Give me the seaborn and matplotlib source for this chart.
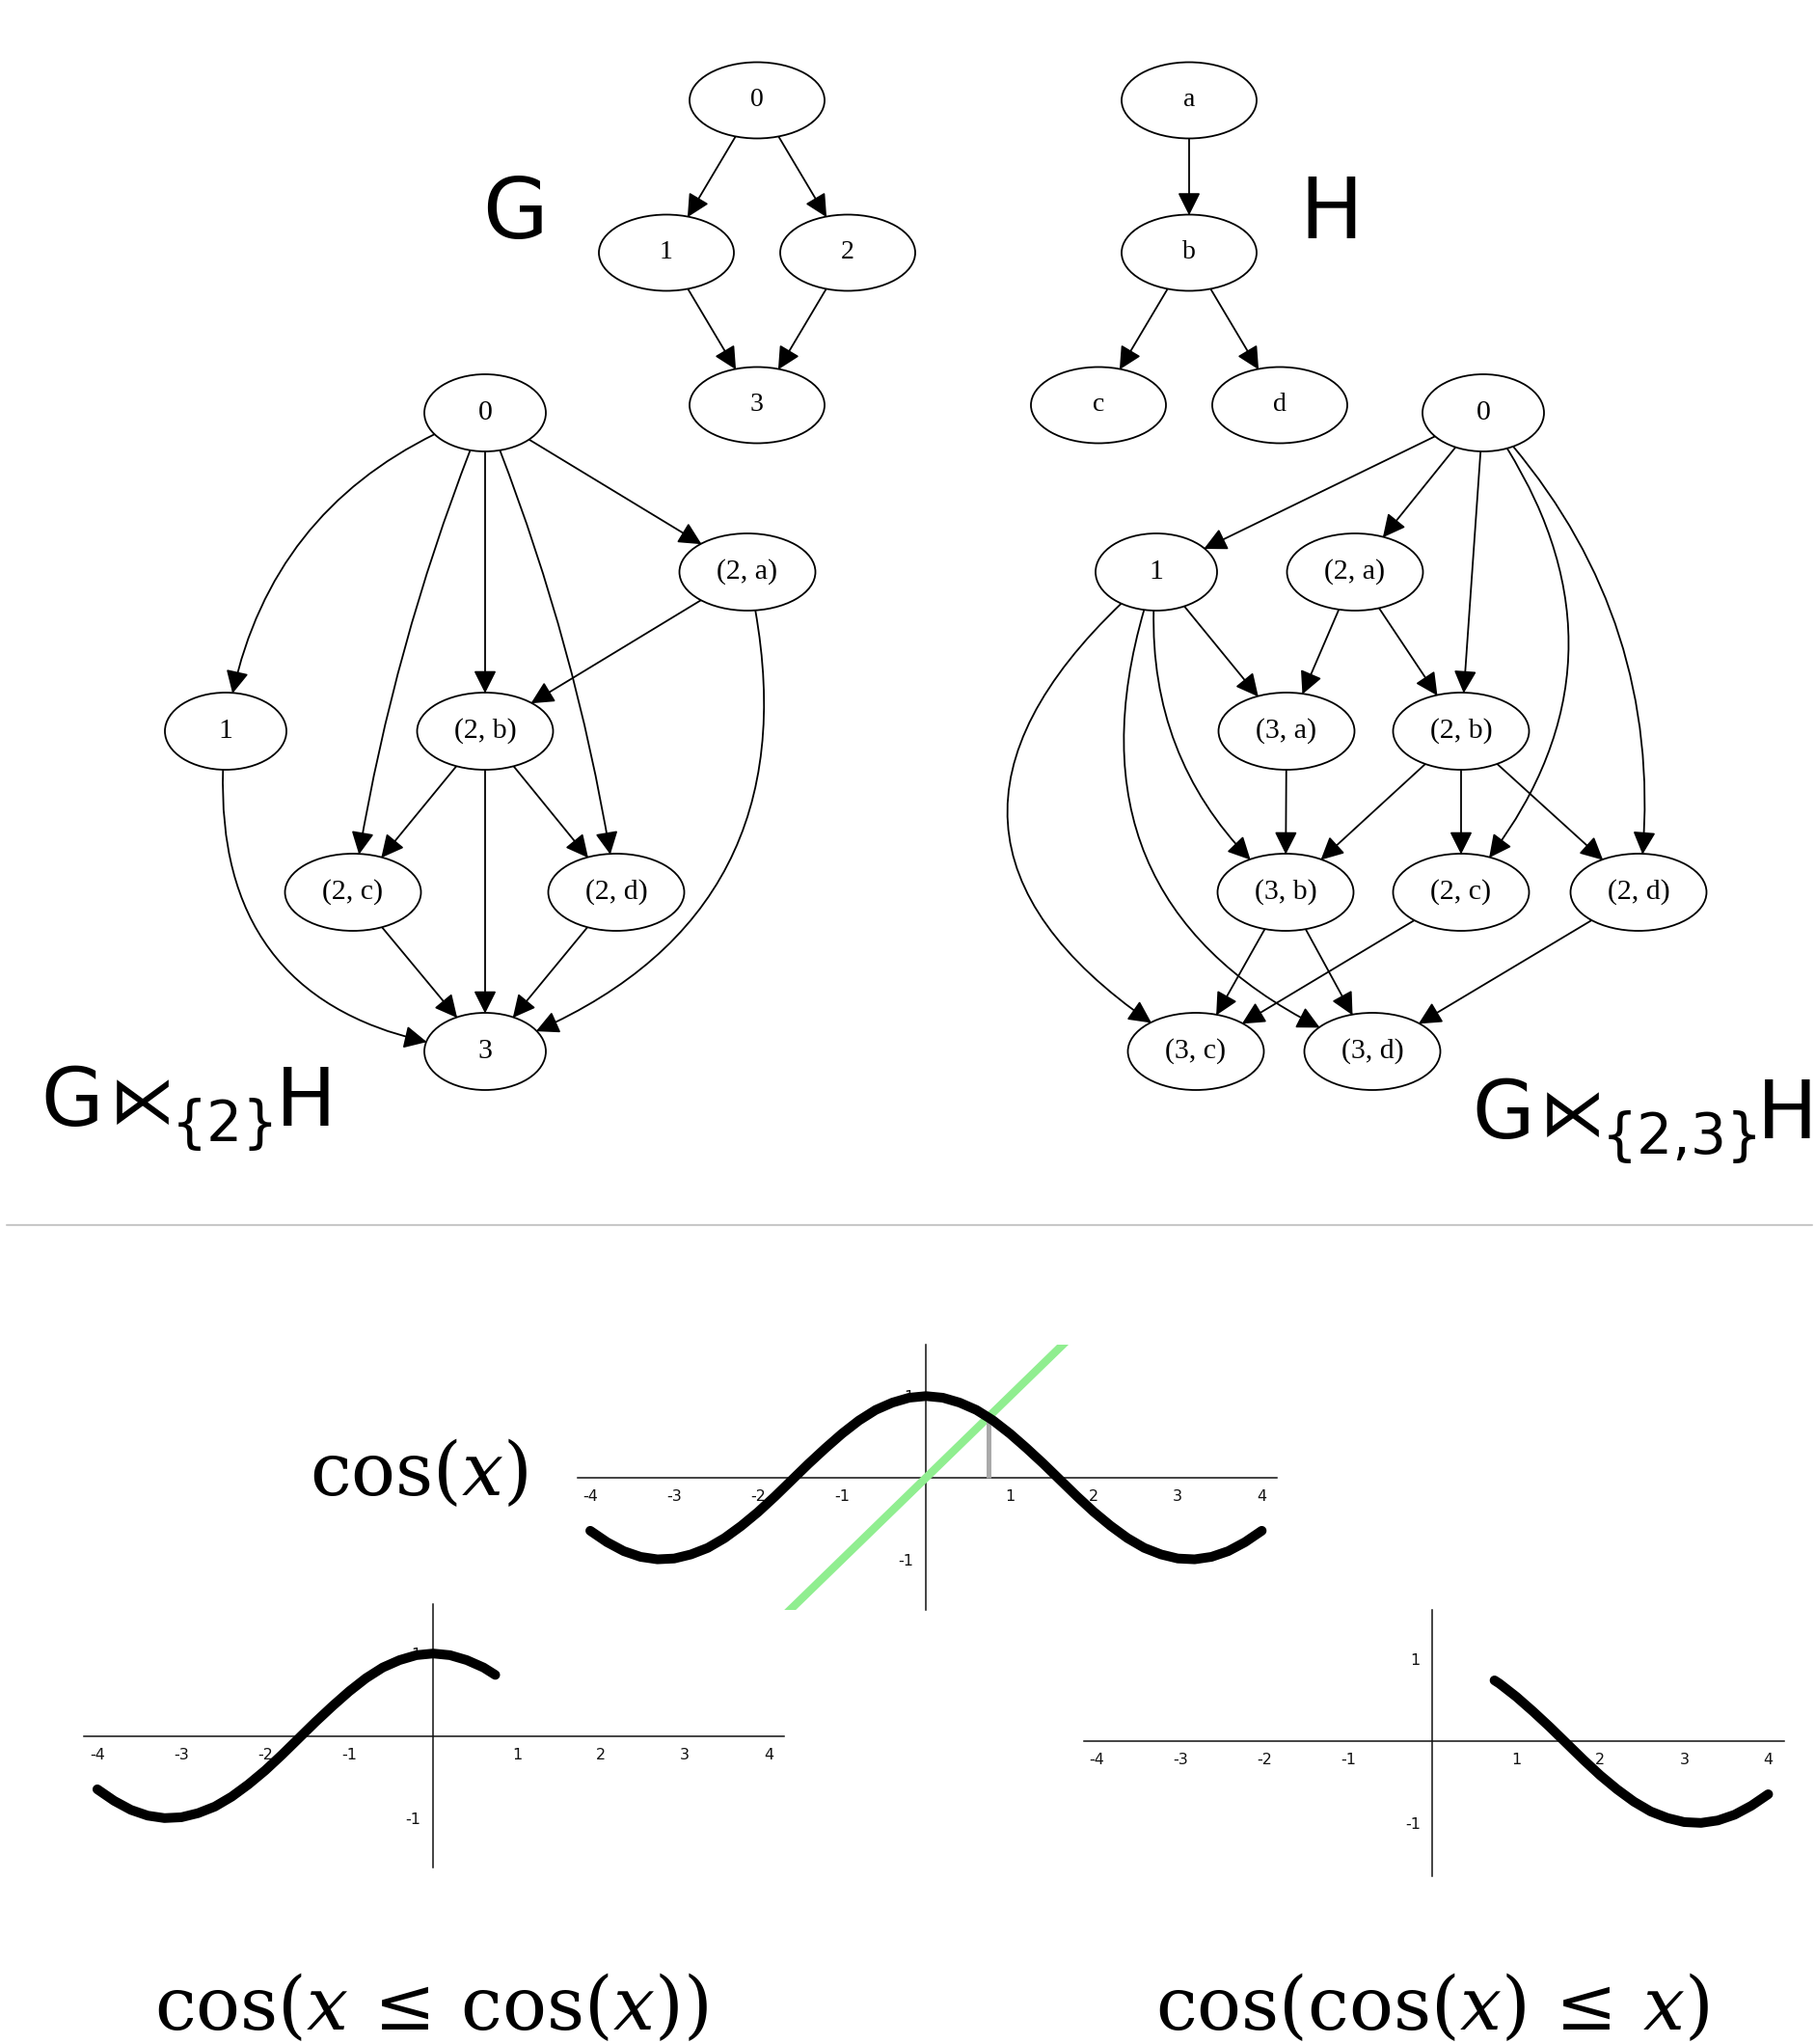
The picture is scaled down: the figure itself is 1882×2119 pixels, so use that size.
import matplotlib.pyplot as plt
from matplotlib.patches import Ellipse, FancyArrowPatch
import seaborn as sns

# Graphs G and H
g_nodes = ['0', '1', '2', '3']
g_edges = [('0', '1'), ('0', '2'), ('1', '3'), ('2', '3')]
h_nodes = ['a', 'b', 'c', 'd']
h_edges = [('a', 'b'), ('b', 'c'), ('b', 'd')]

# G ⋉{2} H
p2_nodes = ['0', '1', '(2, a)', '(2, b)', '(2, c)', '(2, d)', '3']
p2_edges = [('0', '1'), ('0', '(2, a)'), ('0', '(2, b)'), ('0', '(2, c)'), ('0', '(2, d)'),
            ('(2, a)', '(2, b)'), ('(2, a)', '3'), ('1', '3'),
            ('(2, b)', '(2, c)'), ('(2, b)', '(2, d)'), ('(2, b)', '3'),
            ('(2, c)', '3'), ('(2, d)', '3')]

# G ⋉{2,3} H
p23_nodes = ['0', '1', '(2, a)', '(3, a)', '(2, b)', '(3, b)', '(2, c)', '(2, d)', '(3, c)', '(3, d)']
p23_edges = [('0', '1'), ('0', '(2, a)'), ('0', '(2, b)'), ('0', '(2, c)'), ('0', '(2, d)'),
             ('1', '(3, a)'), ('1', '(3, b)'), ('1', '(3, c)'), ('1', '(3, d)'),
             ('(2, a)', '(3, a)'), ('(2, a)', '(2, b)'), ('(3, a)', '(3, b)'),
             ('(2, b)', '(3, b)'), ('(2, b)', '(2, c)'), ('(2, b)', '(2, d)'),
             ('(3, b)', '(3, c)'), ('(3, b)', '(3, d)'), ('(2, c)', '(3, c)'), ('(2, d)', '(3, d)')]

# label pieces: graph name, operator, subscript, graph name
left_label = ['G', '⋉', '{2}', 'H']
right_label = ['G', '⋉', '{2,3}', 'H']

# cos(x) samples and the line y = x
cos_x = [-4.0, -3.8, -3.6, -3.4, -3.2, -3.0, -2.8, -2.6, -2.4, -2.2, -2.0, -1.8, -1.6, -1.4,
         -1.2, -1.0, -0.8, -0.6, -0.4, -0.2, 0.0, 0.2, 0.4, 0.6, 0.74, 0.8, 1.0, 1.2, 1.4,
         1.6, 1.8, 2.0, 2.2, 2.4, 2.6, 2.8, 3.0, 3.2, 3.4, 3.6, 3.8, 4.0]
cos_y = [-0.65, -0.79, -0.90, -0.97, -1.00, -0.99, -0.94, -0.86, -0.74, -0.59, -0.42, -0.23,
         -0.03, 0.17, 0.36, 0.54, 0.70, 0.83, 0.92, 0.98, 1.00, 0.98, 0.92, 0.83, 0.74, 0.70,
         0.54, 0.36, 0.17, -0.03, -0.23, -0.42, -0.59, -0.74, -0.86, -0.94, -0.99, -1.00,
         -0.97, -0.90, -0.79, -0.65]
line_x = [-1.7, 1.7]
line_y = [-1.7, 1.7]
fixed_x = [0.74, 0.74]
fixed_y = [0.0, 0.74]
x_ticks = [-4, -3, -2, -1, 1, 2, 3, 4]
y_ticks = [-1, 1]

# layout (pixel positions of the drawn graphs)
W, H = 1883, 2119
g_pos = {'0': (785, 104), '1': (691, 262), '2': (879, 262), '3': (785, 420)}
h_pos = {'a': (1233, 104), 'b': (1233, 262), 'c': (1139, 420), 'd': (1327, 420)}
p2_pos = {'0': (503, 428), '(2, a)': (775, 593), '1': (234, 758), '(2, b)': (503, 758),
          '(2, c)': (366, 925), '(2, d)': (639, 925), '3': (503, 1090)}
p23_pos = {'0': (1538, 428), '1': (1199, 593), '(2, a)': (1405, 593), '(3, a)': (1334, 758),
           '(2, b)': (1515, 758), '(3, b)': (1333, 925), '(2, c)': (1515, 925),
           '(2, d)': (1699, 925), '(3, c)': (1240, 1090), '(3, d)': (1423, 1090)}
p2_bend = {('0', '1'): 0.3, ('0', '(2, c)'): 0.06, ('0', '(2, d)'): -0.06,
           ('(2, a)', '3'): -0.45, ('1', '3'): 0.5}
p23_bend = {('0', '(2, c)'): -0.4, ('0', '(2, d)'): -0.24, ('1', '(3, b)'): 0.27,
            ('1', '(3, c)'): 0.7, ('1', '(3, d)'): 0.48}

sns.set_style('white')
plt.rcParams['font.family'] = ['DejaVu Sans']
plt.rcParams['axes.unicode_minus'] = False
plt.rcParams['text.color'] = 'black'


def draw_graph(ax, nodes, edges, pos, bend, fs, w_single, w_tuple, h):
    patches = {}
    for name in nodes:
        x, y = pos[name]
        w = w_tuple if name.startswith('(') else w_single
        e = Ellipse((x, y), w, h, facecolor='white', edgecolor='black', lw=1.3, zorder=2)
        ax.add_patch(e)
        patches[name] = e
        ax.text(x, y, name, ha='center', va='center', fontsize=fs,
                family='Liberation Serif', color='black', zorder=3)
    for a, b in edges:
        rad = bend.get((a, b), 0.0)
        arr = FancyArrowPatch(pos[a], pos[b], patchA=patches[a], patchB=patches[b],
                              shrinkA=0, shrinkB=0, connectionstyle=f'arc3,rad={rad}',
                              arrowstyle='-|>,head_length=0.48,head_width=0.24',
                              mutation_scale=30, lw=1.3, color='black', zorder=1)
        ax.add_patch(arr)


def draw_label(ax, parts, xs, baseline, sub_drop):
    sizes = [60, 49, 42, 60]
    drops = [0, -3, sub_drop, 0]
    for text, x, size, drop in zip(parts, xs, sizes, drops):
        ax.text(x, baseline + drop, text, fontsize=size, ha='left', va='baseline',
                color='black')


def setup_cos_axes(ax, xlim, ylim):
    ax.set_xlim(*xlim)
    ax.set_ylim(*ylim)
    ax.patch.set_alpha(0)
    for side in ['top', 'right']:
        ax.spines[side].set_visible(False)
    for side in ['left', 'bottom']:
        ax.spines[side].set_position(('data', 0))
        ax.spines[side].set_linewidth(1.1)
        ax.spines[side].set_color('#111111')
    ax.set_xticks(x_ticks)
    ax.set_yticks(y_ticks)
    ax.set_xticks([t / 5 for t in range(-20, 21)], minor=True)
    ax.set_yticks([t / 5 for t in range(-8, 9)], minor=True)
    ax.tick_params(which='major', direction='out', length=6, width=1, labelsize=11.5,
                   colors='#111111', pad=3)
    ax.tick_params(which='minor', direction='out', length=3.5, width=0.8, colors='#111111')
    ax.set_xlabel('')
    ax.set_ylabel('')


fig = plt.figure(figsize=(W / 100, H / 100), dpi=100)
bg = fig.add_axes([0, 0, 1, 1])
bg.set_xlim(0, W)
bg.set_ylim(H, 0)
bg.axis('off')

draw_graph(bg, g_nodes, g_edges, g_pos, {}, 20, 140, 79, 79)
draw_graph(bg, h_nodes, h_edges, h_pos, {}, 20, 140, 79, 79)
draw_graph(bg, p2_nodes, p2_edges, p2_pos, p2_bend, 21.5, 126, 141, 80)
draw_graph(bg, p23_nodes, p23_edges, p23_pos, p23_bend, 21.5, 126, 141, 80)

bg.text(534, 247, 'G', fontsize=63, ha='center', va='baseline', color='black')
bg.text(1380, 247, 'H', fontsize=63, ha='center', va='baseline', color='black')
draw_label(bg, left_label, [42, 114, 178, 286], 1167, 16)
draw_label(bg, right_label, [1526, 1597, 1661, 1822], 1180, 16)

bg.plot([7, 1879], [1270, 1270], color='#c8c8c8', lw=1.5)

bg.text(434, 1550, r'$\cos(x)$', fontsize=55, ha='center', va='baseline',
        math_fontfamily='dejavuserif', color='black')
bg.text(160, 2104, r'$\cos(x\,\leq\,\cos(x))$', fontsize=55, ha='left', va='baseline',
        math_fontfamily='dejavuserif', color='black')
bg.text(1198, 2104, r'$\cos(\cos(x)\,\leq\,x)$', fontsize=55, ha='left', va='baseline',
        math_fontfamily='dejavuserif', color='black')


def px_rect(x0, x1, y0, y1):
    return [x0 / W, 1 - y1 / H, (x1 - x0) / W, (y1 - y0) / H]


# top: cos(x) with y = x
ax_top = fig.add_axes(px_rect(599, 1324, 1394, 1669))
setup_cos_axes(ax_top, (-4.15, 4.18), (-1.62, 1.63))
sns.lineplot(x=line_x, y=line_y, ax=ax_top, color='#90ee90', lw=6, zorder=3)
ax_top.plot(fixed_x, fixed_y, color='#aaaaaa', lw=3.6, zorder=3.5, solid_capstyle='butt')
sns.lineplot(x=cos_x, y=cos_y, ax=ax_top, color='black', lw=7.2, zorder=4)

# bottom left: part where x <= cos(x)
left_x = [x for x in cos_x if x <= fixed_x[0]]
left_y = [y for x, y in zip(cos_x, cos_y) if x <= fixed_x[0]]
ax_left = fig.add_axes(px_rect(87, 813, 1663, 1936))
setup_cos_axes(ax_left, (-4.16, 4.18), (-1.60, 1.58))
sns.lineplot(x=left_x, y=left_y, ax=ax_left, color='black', lw=7.2, zorder=4)

# bottom right: part where cos(x) <= x
right_x = [x for x in cos_x if x >= fixed_x[0]]
right_y = [y for x, y in zip(cos_x, cos_y) if x >= fixed_x[0]]
ax_right = fig.add_axes(px_rect(1124, 1850, 1669, 1945))
setup_cos_axes(ax_right, (-4.15, 4.19), (-1.65, 1.58))
sns.lineplot(x=right_x, y=right_y, ax=ax_right, color='black', lw=7.2, zorder=4)

fig.savefig('out.png', dpi=100)
